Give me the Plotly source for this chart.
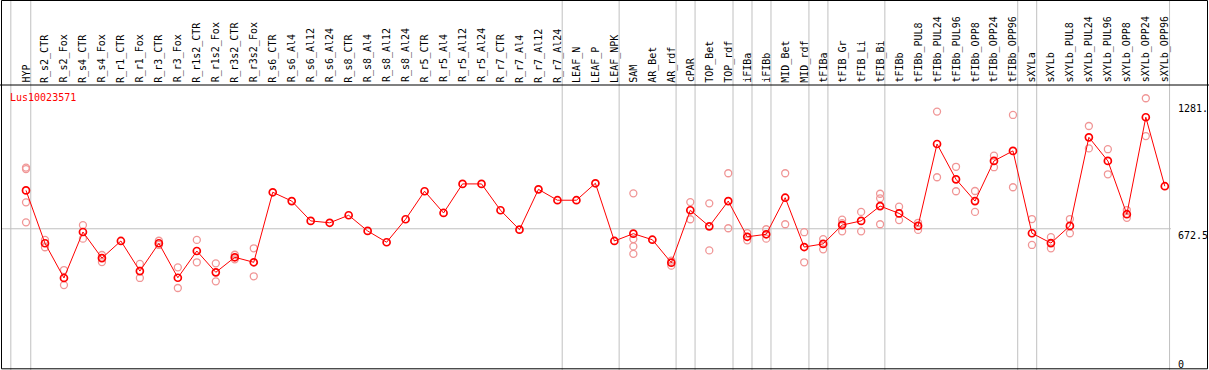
import plotly.graph_objects as go

categories = ["HYP", "R_s2_CTR", "R_s2_Fox", "R_s4_CTR", "R_s4_Fox", "R_r1_CTR", "R_r1_Fox",
              "R_r3_CTR", "R_r3_Fox", "R_r1s2_CTR", "R_r1s2_Fox", "R_r3s2_CTR", "R_r3s2_Fox",
              "R_s6_CTR", "R_s6_Al4", "R_s6_Al12", "R_s6_Al24", "R_s8_CTR", "R_s8_Al4",
              "R_s8_Al12", "R_s8_Al24", "R_r5_CTR", "R_r5_Al4", "R_r5_Al12", "R_r5_Al24",
              "R_r7_CTR", "R_r7_Al4", "R_r7_Al12", "R_r7_Al24", "LEAF_N", "LEAF_P", "LEAF_NPK",
              "SAM", "AR_Bet", "AR_rdf", "cPAR", "TOP_Bet", "TOP_rdf", "iFIBa", "iFIBb",
              "MID_Bet", "MID_rdf", "tFIBa", "tFIB_Gr", "tFIB_Li", "tFIB_Bi", "tFIBb",
              "tFIBb_PUL8", "tFIBb_PUL24", "tFIBb_PUL96", "tFIBb_OPP8", "tFIBb_OPP24",
              "tFIBb_OPP96", "sXYLa", "sXYLb", "sXYLb_PUL8", "sXYLb_PUL24", "sXYLb_PUL96",
              "sXYLb_OPP8", "sXYLb_OPP24", "sXYLb_OPP96"]

mean_values = [856, 603, 437, 657, 532, 614, 470, 603, 438, 566, 464, 536, 512,
               847, 805, 710, 701, 737, 662, 608, 718, 852, 748, 887, 887, 761, 668,
               861, 809, 809, 890, 614, 649, 620, 510, 761, 684, 805, 634, 646, 821,
               585, 600, 690, 710, 781, 746, 686, 1078, 909, 805, 997, 1045, 651, 604,
               686, 1110, 997, 742, 1206, 876]

rep_a = [965, 619, 475, 690, 547, None, 504, 615, 488, 619, 507, 548, 579,
         None, None, None, None, None, None, None, None, None, None, None, None, None, None,
         None, None, None, None, None, 842, None, 520, 800, 794, 938, 652, 670, 938,
         656, 623, 716, 753, 840, 778, 701, 1233, 969, 853, 1022, 1217, 719, 632,
         719, 1164, 1053, 762, 1297, None]
rep_b = [958, 584, 403, 625, 513, None, 437, 595, 389, 512, 421, 526, 445,
         None, None, None, None, None, None, None, None, None, None, None, None, None, None,
         None, None, None, None, None, 623, None, 496, 718, 569, 675, 617, 625, 694,
         512, 574, 699, 660, 818, 714, 667, 919, 852, 753, 967, 871, 595, 579,
         651, 1057, 933, 725, 1116, None]
rep_c = [799] + [None] * 31 + [588] + [None] * 10 + [660, None, 694] + [None] * 15
rep_d = [703] + [None] * 31 + [552] + [None] * 28

separators = [-0.8, 0.25, 28.25, 31.25, 34.25, 35.25, 37.25, 38.25, 39.25, 41.25,
              42.25, 45.25, 52.25, 53.25, 60.25]
axis_labels = ["1281.", "672.5", "0"]
axis_values = [1281, 672.5, 0]
gene_name = "Lus10023571"

# pixel geometry -> data ranges
W, H = 1209, 370
PX_PER_X = 18.98
X0_PX = 26.0
Y0_PX = 369.3
PX_PER_Y = 0.209
xmin = -X0_PX / PX_PER_X
xmax = xmin + W / PX_PER_X
ymin = -(H - Y0_PX) / PX_PER_Y
ymax = ymin + H / PX_PER_Y


def xv(px):
    return xmin + px / PX_PER_X


def yv(py):
    return (Y0_PX - py) / PX_PER_Y


x = list(range(len(categories)))
mono = "DejaVu Sans Mono"
fig = go.Figure()

rep_color = "rgb(240,150,150)"
for reps in (rep_a, rep_b, rep_c, rep_d):
    fig.add_trace(go.Scatter(
        x=x, y=reps, mode="markers",
        marker=dict(symbol="circle-open", size=7, color=rep_color, line=dict(width=1.3, color=rep_color)),
        hoverinfo="skip", showlegend=False))

fig.add_trace(go.Scatter(
    x=x, y=mean_values, mode="lines+markers",
    line=dict(color="red", width=1),
    marker=dict(symbol="circle-open", size=7, color="red", line=dict(width=1.7, color="red")),
    showlegend=False))

shapes = []
gray = "rgb(192,192,192)"
for s in separators:
    shapes.append(dict(type="line", x0=s, x1=s, y0=ymin, y1=ymax, xref="x", yref="y",
                       line=dict(color=gray, width=1), layer="below"))
shapes.append(dict(type="line", x0=xv(1), x1=xv(1171), y0=672.5, y1=672.5, xref="x", yref="y",
                   line=dict(color=gray, width=1), layer="below"))
# frame
black = "black"
shapes.append(dict(type="line", x0=xv(0), x1=xv(W), y0=yv(85), y1=yv(85),
                   line=dict(color=black, width=1)))
shapes.append(dict(type="rect", x0=xv(1.5), x1=xv(1207.5), y0=yv(0.5), y1=yv(368.8),
                   line=dict(color=black, width=1)))

annotations = []
for i, c in enumerate(categories):
    annotations.append(dict(x=i, y=yv(83.5), text=c, showarrow=False, textangle=-90,
                            xanchor="center", yanchor="bottom", borderpad=0,
                            font=dict(family=mono, size=10, color="black")))
for lab, v in zip(axis_labels, axis_values):
    ypx = Y0_PX - v * PX_PER_Y
    top_px = min(ypx + 0.5, 358)
    annotations.append(dict(x=xv(1177), y=yv(top_px), text=lab, showarrow=False,
                            xanchor="left", yanchor="top", borderpad=0,
                            font=dict(family=mono, size=10, color="black")))
annotations.append(dict(x=xv(9), y=yv(91), text=gene_name, showarrow=False,
                        xanchor="left", yanchor="top", borderpad=0,
                        font=dict(family=mono, size=10, color="red")))

fig.update_layout(
    width=W, height=H,
    margin=dict(l=0, r=0, t=0, b=0),
    paper_bgcolor="white", plot_bgcolor="white",
    xaxis=dict(range=[xmin, xmax], visible=False, fixedrange=True),
    yaxis=dict(range=[ymin, ymax], visible=False, fixedrange=True),
    shapes=shapes, annotations=annotations,
    showlegend=False,
)

fig.write_html("out.html", config={"displayModeBar": False},
               post_script="document.body.style.margin='0';document.body.style.padding='0';")
